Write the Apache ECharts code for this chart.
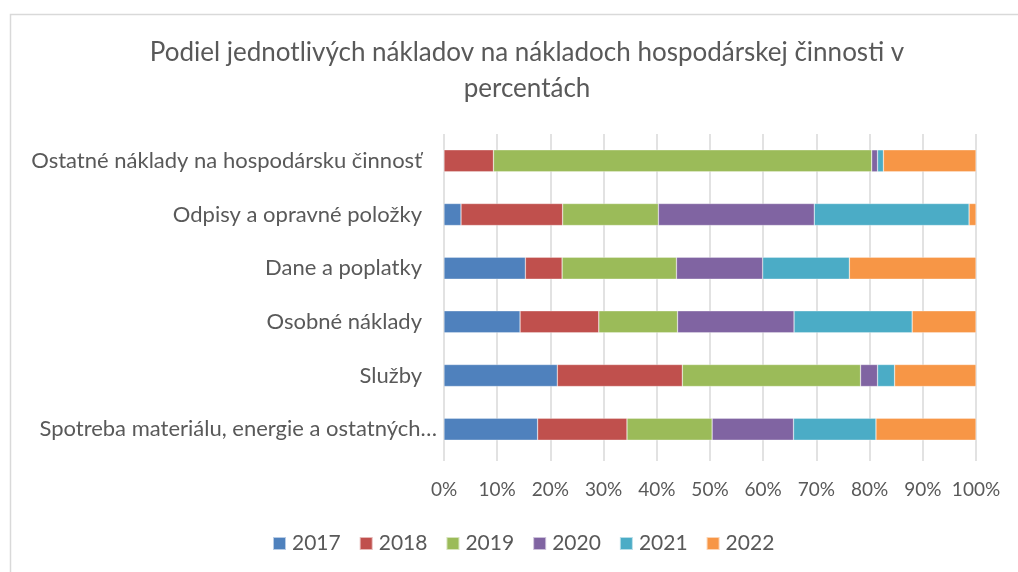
<!DOCTYPE html>
<html>
<head>
<meta charset="utf-8">
<script src="https://cdn.jsdelivr.net/npm/echarts@6/dist/echarts.min.js"></script>
<style>
  html, body { margin: 0; padding: 0; background: #fff; }
  #chart { width: 1018px; height: 572px; }
</style>
</head>
<body>
<div id="chart"></div>
<script>
// kategorie zdola nahor (echarts kresli prvu kategoriu dole)
var categories = [
    'Spotreba materiálu, energie a ostatných…',
    'Služby',
    'Osobné náklady',
    'Dane a poplatky',
    'Odpisy a opravné položky',
    'Ostatné náklady na hospodársku činnosť'
];
var years = ['2017', '2018', '2019', '2020', '2021', '2022'];

// podiely v % pre jednotlive roky
var s2017 = [17.6, 21.3, 14.3, 15.3, 3.2, 0];
var s2018 = [16.8, 23.5, 14.8, 6.9, 19.1, 9.3];
var s2019 = [16.0, 33.5, 14.8, 21.5, 18.0, 71.1];
var s2020 = [15.3, 3.2, 21.9, 16.2, 29.3, 1.1];
var s2021 = [15.5, 3.2, 22.2, 16.3, 29.1, 1.1];
var s2022 = [18.8, 15.3, 12.0, 23.8, 1.3, 17.4];

var tickValues = [0, 10, 20, 30, 40, 50, 60, 70, 80, 90, 100];

var colors = ['#4F81BD', '#C0504D', '#9BBB59', '#8064A2', '#4BACC6', '#F79646'];
var allSeries = [s2017, s2018, s2019, s2020, s2021, s2022];
var font = 'Lato';
var textColor = '#595959';

var myChart = echarts.init(document.getElementById('chart'));
myChart.setOption({
    animation: false,
    color: colors,
    // ramcek grafu (pravy a spodny okraj su mimo obrazka)
    graphic: [{
        type: 'rect',
        left: 8,
        top: 12,
        shape: { width: 1100, height: 700 },
        style: { fill: null, stroke: '#D9D9D9', lineWidth: 1.5 },
        silent: true
    }],
    title: {
        text: 'Podiel jednotlivých nákladov na nákladoch hospodárskej činnosti v\npercentách',
        left: 522,
        textAlign: 'center',
        top: 30,
        textStyle: {
            fontFamily: font,
            fontSize: 26,
            fontWeight: 'normal',
            color: textColor,
            lineHeight: 36
        }
    },
    legend: {
        data: years,
        bottom: 13,
        left: 267,
        icon: 'rect',
        itemWidth: 13,
        itemHeight: 13,
        itemGap: 18,
        textStyle: {
            fontFamily: font,
            fontSize: 21,
            color: textColor,
            padding: [0, 0, 0, 1]
        }
    },
    grid: {
        left: 444,
        right: 42,
        top: 134,
        bottom: 116
    },
    xAxis: {
        type: 'value',
        min: 0,
        max: 100,
        interval: 10,
        axisLabel: {
            fontFamily: font,
            fontSize: 19,
            color: textColor,
            margin: 24,
            formatter: function (v) {
                return tickValues.indexOf(v) >= 0 ? v + '%' : '';
            }
        },
        axisLine: { show: false },
        axisTick: {
            show: true,
            length: 5,
            lineStyle: { color: '#D9D9D9', width: 1.5 }
        },
        splitLine: {
            lineStyle: { color: '#D9D9D9', width: 1.5 }
        }
    },
    yAxis: {
        type: 'category',
        data: categories,
        axisLine: { show: false },
        axisTick: { show: false },
        axisLabel: {
            fontFamily: font,
            fontSize: 22,
            color: textColor,
            margin: 7,
            formatter: function (v, i) {
                return i === 0 ? '{b|' + v + '}' : '{a|' + v + '}';
            },
            rich: {
                a: { fontFamily: font, fontSize: 22, color: textColor, padding: [0, 15, 0, 0] },
                b: { fontFamily: font, fontSize: 22, color: textColor }
            }
        }
    },
    series: years.map(function (y, k) {
        return {
            name: y,
            type: 'bar',
            stack: 'total',
            barWidth: 22,
            data: allSeries[k],
            itemStyle: { borderColor: 'rgba(255,255,255,0.6)', borderWidth: 0.5 }
        };
    })
});
</script>
</body>
</html>
